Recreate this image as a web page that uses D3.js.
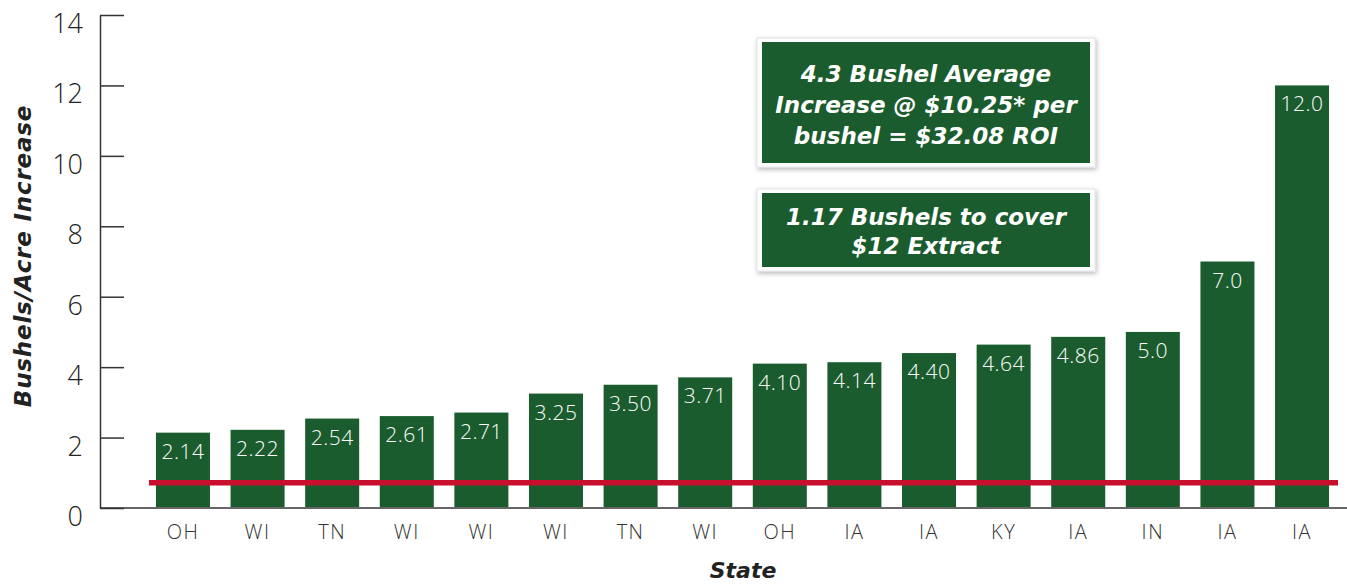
<!DOCTYPE html>
<meta charset="utf-8">
<html>
<head>
<script src="https://cdnjs.cloudflare.com/ajax/libs/d3/7.8.5/d3.min.js"></script>
<style>
  body { margin: 0; background: #fff; }
  svg { display: block; font-family: "Open Sans", sans-serif; }
</style>
</head>
<body>
<script>
// data
var states = ["OH", "WI", "TN", "WI", "WI", "WI", "TN", "WI", "OH", "IA", "IA", "KY", "IA", "IN", "IA", "IA"];
var increase = [2.14, 2.22, 2.54, 2.61, 2.71, 3.25, 3.50, 3.71, 4.10, 4.14, 4.40, 4.64, 4.86, 5.0, 7.0, 12.0];
var barLabels = ["2.14", "2.22", "2.54", "2.61", "2.71", "3.25", "3.50", "3.71", "4.10", "4.14", "4.40", "4.64", "4.86", "5.0", "7.0", "12.0"];
var yTicks = [0, 2, 4, 6, 8, 10, 12, 14];
var breakEven = 0.72;
var boxRoi = ["4.3 Bushel Average", "Increase @ $10.25* per", "bushel = $32.08 ROI"];
var boxCover = ["1.17 Bushels to cover", "$12 Extract"];

var width = 1347, height = 584;
var green = "#1b5c2e", red = "#c8102e";
var boldFont = "'DejaVu Sans', sans-serif";

var svg = d3.select("body").append("svg")
    .attr("width", width)
    .attr("height", height);

var defs = svg.append("defs");
var shadow = defs.append("filter").attr("id", "shadow")
    .attr("x", "-10%").attr("y", "-20%").attr("width", "120%").attr("height", "140%");
shadow.append("feDropShadow")
    .attr("dx", 1).attr("dy", 2).attr("stdDeviation", 2.5)
    .attr("flood-color", "#000").attr("flood-opacity", 0.28);

var x = d3.scaleBand()
    .domain(d3.range(states.length))
    .range([100, 1385])
    .paddingInner(0.276)
    .paddingOuter(0.75);

var y = d3.scaleLinear()
    .domain([0, 14])
    .range([508, 15]);

// bars
svg.append("g").selectAll("rect")
    .data(increase)
    .join("rect")
    .attr("x", function(d, i) { return x(i); })
    .attr("y", function(d) { return y(d); })
    .attr("width", x.bandwidth())
    .attr("height", function(d) { return y(0) - y(d); })
    .attr("fill", green);

// value labels inside bars
svg.append("g").selectAll("text")
    .data(increase)
    .join("text")
    .attr("x", function(d, i) { return x(i) + x.bandwidth() / 2; })
    .attr("y", function(d) { return y(d) + 26; })
    .attr("text-anchor", "middle")
    .attr("fill", "#fff")
    .style("font-size", "21px")
    .style("font-weight", 300)
    .style("letter-spacing", "0.5px")
    .text(function(d, i) { return barLabels[i]; });

// break-even line
svg.append("line")
    .attr("x1", x(0) - 7)
    .attr("x2", x(states.length - 1) + x.bandwidth() + 9)
    .attr("y1", y(breakEven))
    .attr("y2", y(breakEven))
    .attr("stroke", red)
    .attr("stroke-width", 5.5);

// x baseline
svg.append("line")
    .attr("x1", 100).attr("x2", width)
    .attr("y1", y(0)).attr("y2", y(0))
    .attr("stroke", "#666")
    .attr("stroke-width", 2);

// x labels
svg.append("g").selectAll("text")
    .data(states)
    .join("text")
    .attr("x", function(d, i) { return x(i) + x.bandwidth() / 2; })
    .attr("y", 539)
    .attr("text-anchor", "middle")
    .attr("fill", "#333")
    .style("font-size", "20px")
    .style("font-weight", 300)
    .style("letter-spacing", "1.5px")
    .text(function(d) { return d; });

// y axis
var yAxis = svg.append("g")
    .attr("transform", "translate(100,0)")
    .call(d3.axisLeft(y).tickValues(yTicks).tickSizeInner(-24).tickSizeOuter(0).tickPadding(17));
yAxis.select(".domain").attr("stroke", "#333").attr("stroke-width", 1.5);
yAxis.selectAll(".tick line").attr("stroke", "#333").attr("stroke-width", 1.5);
yAxis.selectAll(".tick text")
    .attr("dy", 17.5)
    .attr("fill", "#222")
    .style("font-size", "27px")
    .style("font-weight", 300)
    .style("font-family", "'Open Sans', sans-serif");

// axis titles
svg.append("text")
    .attr("x", 743).attr("y", 578)
    .attr("text-anchor", "middle")
    .attr("fill", "#222")
    .style("font-family", boldFont)
    .style("font-size", "22px")
    .style("font-weight", 700)
    .style("font-style", "italic")
    .text("State");

svg.append("text")
    .attr("transform", "translate(31,256) rotate(-90)")
    .attr("text-anchor", "middle")
    .attr("fill", "#222")
    .style("font-family", boldFont)
    .style("font-size", "23px")
    .style("font-weight", 700)
    .style("font-style", "italic")
    .style("letter-spacing", "0.8px")
    .text("Bushels/Acre Increase");

// callout boxes
function callout(top, bottom, lines, firstBase, lineGap) {
    var g = svg.append("g");
    g.append("rect")
        .attr("x", 757).attr("y", top - 4)
        .attr("width", 338).attr("height", bottom - top + 8)
        .attr("fill", "#fff")
        .attr("stroke", "#e2e2e2")
        .attr("stroke-width", 1)
        .attr("filter", "url(#shadow)");
    g.append("rect")
        .attr("x", 762).attr("y", top)
        .attr("width", 328).attr("height", bottom - top)
        .attr("fill", green);
    g.selectAll("text")
        .data(lines)
        .join("text")
        .attr("x", 926)
        .attr("y", function(d, i) { return firstBase + i * lineGap; })
        .attr("text-anchor", "middle")
        .attr("fill", "#fff")
        .style("font-family", boldFont)
        .style("font-size", "23px")
        .style("font-weight", 700)
        .style("font-style", "italic")
        .text(function(d) { return d; });
}
callout(42, 163, boxRoi, 82, 31);
callout(193, 267, boxCover, 225, 29);
</script>
</body>
</html>
